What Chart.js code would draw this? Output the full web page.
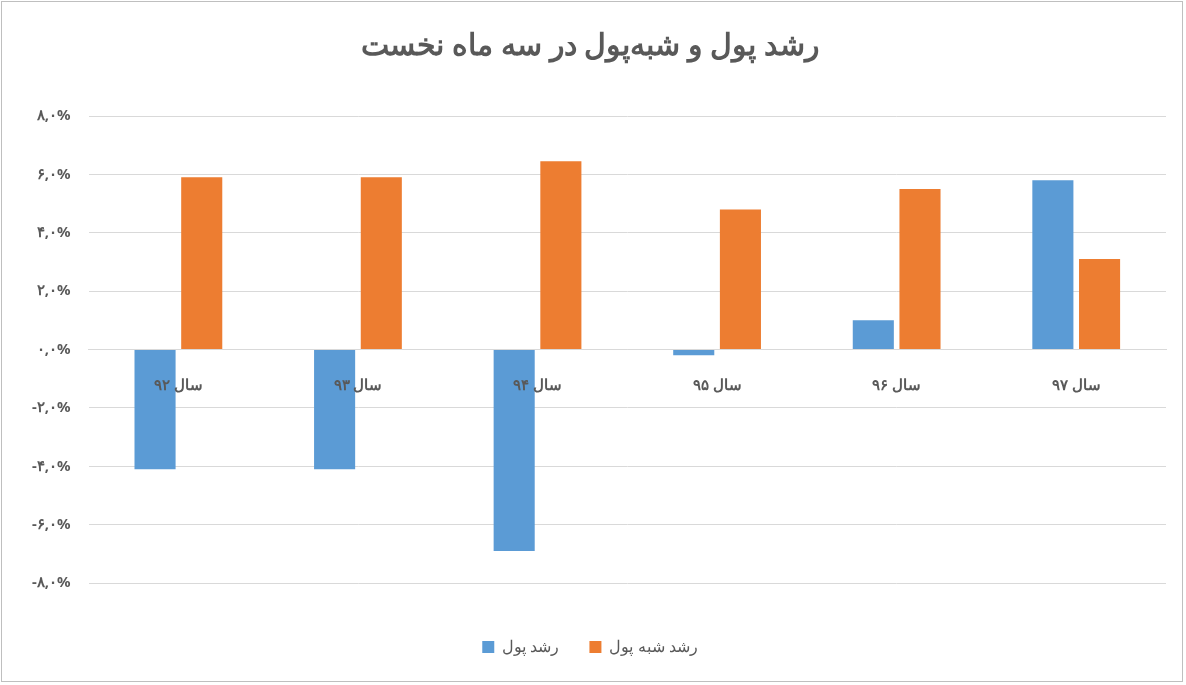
<!DOCTYPE html>
<html><head><meta charset="utf-8">
<script src="https://cdn.jsdelivr.net/npm/chart.js@4"></script>
<style>
html,body{margin:0;background:#fff}
#wrap{position:absolute;left:1px;top:1px;width:1182px;height:681px;border:1px solid #bfbfbf;box-sizing:border-box}
</style></head><body>
<div id="wrap"><canvas id="c"></canvas></div>
<script>
const categories = ["سال ۹۲", "سال ۹۳", "سال ۹۴", "سال ۹۵", "سال ۹۶", "سال ۹۷"];
const moneyGrowth = [-4.1, -4.1, -6.9, -0.2, 1.0, 5.8];
const quasiMoneyGrowth = [5.9, 5.9, 6.45, 4.8, 5.5, 3.1];
const seriesNames = ["رشد پول", "رشد شبه پول"];
const title = "رشد پول و شبه‌پول در سه ماه نخست";

const faDigits = "۰۱۲۳۴۵۶۷۸۹";
function toFa(v) {
  const s = Math.abs(v).toFixed(1).replace(/\d/g, (d) => faDigits[d]).replace(".", ",");
  return (v < 0 ? "-" : "") + s + "%";
}

// category labels drawn on top of the bars, next to the zero line
const topLabels = {
  id: "topLabels",
  afterDatasetsDraw(chart) {
    const { ctx, scales } = chart;
    const y0 = scales.y.getPixelForValue(0);
    ctx.save();
    ctx.fillStyle = "#595959";
    ctx.font = "bold 15px 'Noto Sans'";
    ctx.textAlign = "center";
    ctx.textBaseline = "middle";
    categories.forEach((c, i) => ctx.fillText(c, scales.x.getPixelForValue(i), y0 + 36));
    ctx.restore();
  },
};

new Chart(document.getElementById("c"), {
  type: "bar",
  data: {
    labels: categories,
    datasets: [
      { label: seriesNames[0], data: moneyGrowth, backgroundColor: "#5b9bd5" },
      { label: seriesNames[1], data: quasiMoneyGrowth, backgroundColor: "#ed7d31" },
    ],
  },
  plugins: [topLabels],
  options: {
    responsive: true,
    maintainAspectRatio: false,
    animation: false,
    categoryPercentage: 0.52,
    barPercentage: 0.88,
    layout: { padding: { left: 12, right: 16, top: 10, bottom: 16 } },
    plugins: {
      title: {
        display: true, text: title, color: "#595959",
        font: { size: 30, weight: "bold", family: "Noto Sans" },
        padding: { top: 16, bottom: 52 },
      },
      legend: {
        position: "bottom",
        labels: { color: "#595959", font: { size: 16, family: "Noto Sans" }, boxWidth: 12, boxHeight: 12, padding: 30 },
      },
      tooltip: { enabled: false },
    },
    scales: {
      x: {
        position: { y: 0 },
        grid: { display: false },
        border: { color: "#d9d9d9" },
        ticks: { display: false },
      },
      gap: {
        type: "category",
        position: "bottom",
        grid: { display: false },
        border: { display: false },
        ticks: { display: false },
        afterFit: (s) => { s.height = 26; },
      },
      y: {
        min: -8, max: 8,
        ticks: { stepSize: 2, color: "#595959", font: { size: 15, weight: "bold", family: "Noto Sans" }, padding: 18, callback: (v) => toFa(v) },
        grid: { color: "#d9d9d9", drawTicks: false },
        border: { display: false },
      },
    },
  },
});
</script></body></html>
